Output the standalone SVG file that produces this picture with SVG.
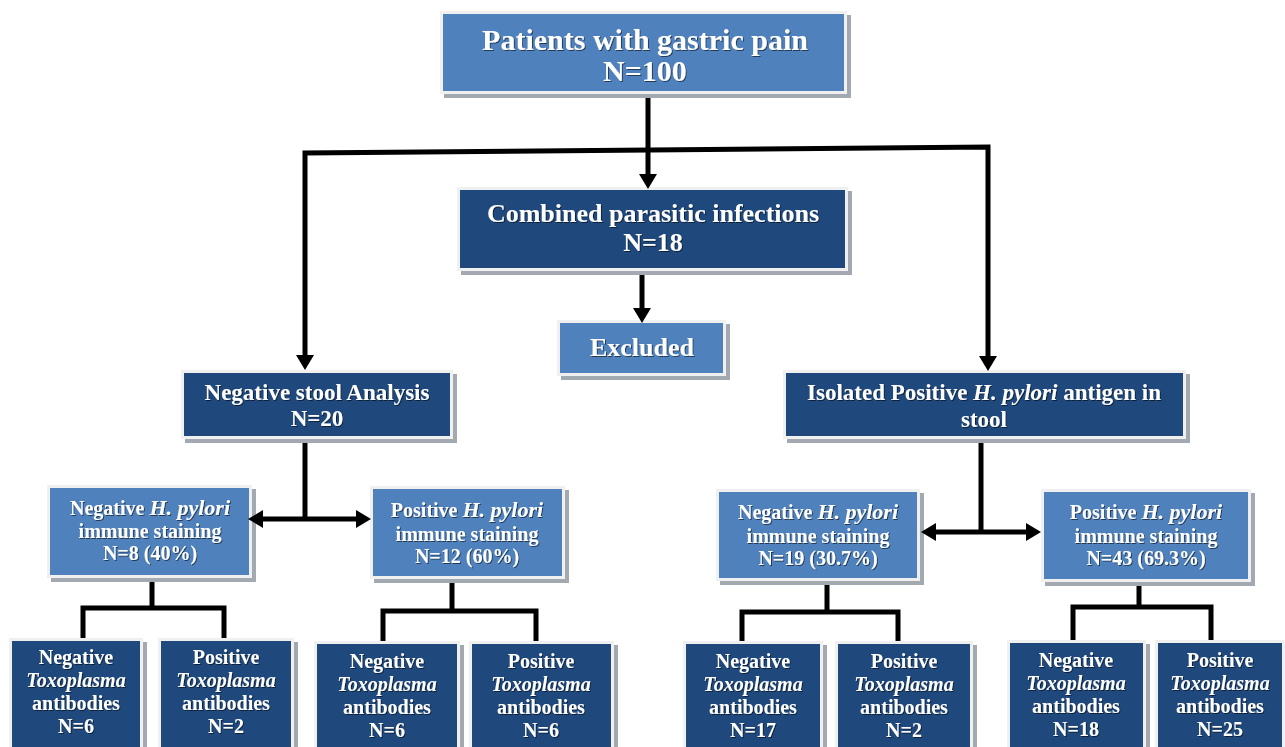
<svg xmlns="http://www.w3.org/2000/svg" width="1285" height="747" viewBox="0 0 1285 747" font-family="Liberation Serif, Times New Roman, DejaVu Serif, serif">
<style>
.sh{fill:#a3a9b0}
.bd{fill:#f0f0f0}
.lt{fill:#4f81bd}
.dk{fill:#1f497d}
.t{font-family:'Liberation Serif','Times New Roman','DejaVu Serif',serif;font-weight:bold;fill:#ffffff;text-anchor:middle;filter:url(#ts)}
.i{font-style:italic}
.hi{font-style:italic;font-size:22px}
.ln{stroke:#000;stroke-width:5;fill:none}
.ah{fill:#000}
</style>
<defs>
<filter id="ts" x="-10%" y="-30%" width="120%" height="160%">
<feDropShadow dx="1" dy="1" stdDeviation="0.6" flood-color="#000" flood-opacity="0.55"/>
</filter>
</defs>
<rect width="1285" height="747" fill="#ffffff"/>

<g id="n_patients">
<rect class="sh" x="444" y="15" width="407" height="83"/>
<rect class="bd" x="440" y="11" width="407" height="83"/>
<rect class="lt" x="443" y="14" width="401" height="77"/>
<text class="t" x="645" y="50" font-size="30">Patients with gastric pain</text>
<text class="t" x="645" y="81" font-size="30">N=100</text>
</g>

<g id="n_combined">
<rect class="sh" x="461" y="191" width="391" height="84"/>
<rect class="bd" x="457" y="187" width="391" height="84"/>
<rect class="dk" x="460" y="190" width="385" height="78"/>
<text class="t" x="653" y="222" font-size="26">Combined parasitic infections</text>
<text class="t" x="653" y="251" font-size="26">N=18</text>
</g>

<g id="n_excluded">
<rect class="sh" x="561" y="324" width="169" height="56"/>
<rect class="bd" x="557" y="320" width="169" height="56"/>
<rect class="lt" x="560" y="323" width="163" height="50"/>
<text class="t" x="642" y="356" font-size="26">Excluded</text>
</g>

<g id="n_negstool">
<rect class="sh" x="185" y="374" width="272" height="69"/>
<rect class="bd" x="181" y="370" width="272" height="69"/>
<rect class="dk" x="184" y="373" width="266" height="63"/>
<text class="t" x="317" y="400" font-size="23">Negative stool Analysis</text>
<text class="t" x="317" y="426" font-size="23">N=20</text>
</g>

<g id="n_isolated">
<rect class="sh" x="787" y="374" width="403" height="69"/>
<rect class="bd" x="783" y="370" width="403" height="69"/>
<rect class="dk" x="786" y="373" width="397" height="63"/>
<text class="t" x="984" y="400" font-size="23">Isolated Positive <tspan class="i">H. pylori</tspan> antigen in</text>
<text class="t" x="984" y="427" font-size="23">stool</text>
</g>

<g id="n_negH_L">
<rect class="sh" x="51" y="489" width="205" height="93"/>
<rect class="bd" x="47" y="485" width="205" height="93"/>
<rect class="lt" x="50" y="488" width="199" height="87"/>
<text class="t" x="150" y="515" font-size="20">Negative <tspan class="hi">H. pylori</tspan></text>
<text class="t" x="150" y="538" font-size="20">immune staining</text>
<text class="t" x="150" y="560" font-size="20">N=8 (40%)</text>
</g>

<g id="n_posH_L">
<rect class="sh" x="374" y="490" width="195" height="93"/>
<rect class="bd" x="370" y="486" width="195" height="93"/>
<rect class="lt" x="373" y="489" width="189" height="87"/>
<text class="t" x="467" y="517" font-size="20">Positive <tspan class="hi">H. pylori</tspan></text>
<text class="t" x="467" y="541" font-size="20">immune staining</text>
<text class="t" x="467" y="563" font-size="20">N=12 (60%)</text>
</g>

<g id="n_negH_R">
<rect class="sh" x="720" y="493" width="204" height="92"/>
<rect class="bd" x="716" y="489" width="204" height="92"/>
<rect class="lt" x="719" y="492" width="198" height="86"/>
<text class="t" x="818" y="519" font-size="20">Negative <tspan class="hi">H. pylori</tspan></text>
<text class="t" x="818" y="543" font-size="20">immune staining</text>
<text class="t" x="818" y="565" font-size="20">N=19 (30.7%)</text>
</g>

<g id="n_posH_R">
<rect class="sh" x="1045" y="493" width="210" height="93"/>
<rect class="bd" x="1041" y="489" width="210" height="93"/>
<rect class="lt" x="1044" y="492" width="204" height="87"/>
<text class="t" x="1146" y="519" font-size="20">Positive <tspan class="hi">H. pylori</tspan></text>
<text class="t" x="1146" y="543" font-size="20">immune staining</text>
<text class="t" x="1146" y="565" font-size="20">N=43 (69.3%)</text>
</g>

<g id="n_toxo1">
<rect class="sh" x="13" y="642" width="134" height="110"/>
<rect class="bd" x="9" y="638" width="134" height="110"/>
<rect class="dk" x="12" y="641" width="128" height="110"/>
<text class="t" x="76" y="664" font-size="20">Negative</text>
<text class="t i" x="76" y="687" font-size="20">Toxoplasma</text>
<text class="t" x="76" y="710" font-size="20">antibodies</text>
<text class="t" x="76" y="733" font-size="20">N=6</text>
</g>

<g id="n_toxo2">
<rect class="sh" x="162" y="642" width="136" height="110"/>
<rect class="bd" x="158" y="638" width="136" height="110"/>
<rect class="dk" x="161" y="641" width="130" height="110"/>
<text class="t" x="226" y="664" font-size="20">Positive</text>
<text class="t i" x="226" y="687" font-size="20">Toxoplasma</text>
<text class="t" x="226" y="710" font-size="20">antibodies</text>
<text class="t" x="226" y="733" font-size="20">N=2</text>
</g>

<g id="n_toxo3">
<rect class="sh" x="318" y="645" width="146" height="110"/>
<rect class="bd" x="314" y="641" width="146" height="110"/>
<rect class="dk" x="317" y="644" width="140" height="110"/>
<text class="t" x="387" y="668" font-size="20">Negative</text>
<text class="t i" x="387" y="691" font-size="20">Toxoplasma</text>
<text class="t" x="387" y="714" font-size="20">antibodies</text>
<text class="t" x="387" y="737" font-size="20">N=6</text>
</g>

<g id="n_toxo4">
<rect class="sh" x="473" y="645" width="145" height="110"/>
<rect class="bd" x="469" y="641" width="145" height="110"/>
<rect class="dk" x="472" y="644" width="139" height="110"/>
<text class="t" x="541" y="668" font-size="20">Positive</text>
<text class="t i" x="541" y="691" font-size="20">Toxoplasma</text>
<text class="t" x="541" y="714" font-size="20">antibodies</text>
<text class="t" x="541" y="737" font-size="20">N=6</text>
</g>

<g id="n_toxo5">
<rect class="sh" x="687" y="645" width="140" height="110"/>
<rect class="bd" x="683" y="641" width="140" height="110"/>
<rect class="dk" x="686" y="644" width="134" height="110"/>
<text class="t" x="753" y="668" font-size="20">Negative</text>
<text class="t i" x="753" y="691" font-size="20">Toxoplasma</text>
<text class="t" x="753" y="714" font-size="20">antibodies</text>
<text class="t" x="753" y="737" font-size="20">N=17</text>
</g>

<g id="n_toxo6">
<rect class="sh" x="839" y="645" width="138" height="110"/>
<rect class="bd" x="835" y="641" width="138" height="110"/>
<rect class="dk" x="838" y="644" width="132" height="110"/>
<text class="t" x="904" y="668" font-size="20">Positive</text>
<text class="t i" x="904" y="691" font-size="20">Toxoplasma</text>
<text class="t" x="904" y="714" font-size="20">antibodies</text>
<text class="t" x="904" y="737" font-size="20">N=2</text>
</g>

<g id="n_toxo7">
<rect class="sh" x="1011" y="644" width="139" height="110"/>
<rect class="bd" x="1007" y="640" width="139" height="110"/>
<rect class="dk" x="1010" y="643" width="133" height="110"/>
<text class="t" x="1076" y="667" font-size="20">Negative</text>
<text class="t i" x="1076" y="690" font-size="20">Toxoplasma</text>
<text class="t" x="1076" y="713" font-size="20">antibodies</text>
<text class="t" x="1076" y="736" font-size="20">N=18</text>
</g>

<g id="n_toxo8">
<rect class="sh" x="1159" y="644" width="130" height="110"/>
<rect class="bd" x="1155" y="640" width="130" height="110"/>
<rect class="dk" x="1158" y="643" width="124" height="110"/>
<text class="t" x="1220" y="667" font-size="20">Positive</text>
<text class="t i" x="1220" y="690" font-size="20">Toxoplasma</text>
<text class="t" x="1220" y="713" font-size="20">antibodies</text>
<text class="t" x="1220" y="736" font-size="20">N=25</text>
</g>

<g id="connectors">
<line class="ln" x1="648" y1="98" x2="648" y2="176"/>
<polygon class="ah" points="639,174 657,174 648,189"/>
<polyline class="ln" points="305,357 305,153 988,147 988,358"/>
<polygon class="ah" points="296,355 314,355 305,370"/>
<polygon class="ah" points="979,356 997,356 988,371"/>
<line class="ln" x1="642" y1="275" x2="642" y2="310"/>
<polygon class="ah" points="633,308 651,308 642,323"/>
<line class="ln" x1="305" y1="443" x2="305" y2="519"/>
<line class="ln" x1="260" y1="519" x2="359" y2="519"/>
<polygon class="ah" points="263,510 263,528 248,519"/>
<polygon class="ah" points="356,510 356,528 371,519"/>
<line class="ln" x1="981" y1="443" x2="981" y2="532"/>
<line class="ln" x1="932" y1="532" x2="1029" y2="532"/>
<polygon class="ah" points="936,523 936,541 921,532"/>
<polygon class="ah" points="1026,523 1026,541 1041,532"/>
<polyline class="ln" points="152,582 152,608"/>
<polyline class="ln" points="83,638 83,608 224,608 224,638"/>
<polyline class="ln" points="452,583 452,611"/>
<polyline class="ln" points="383,641 383,611 536,611 536,641"/>
<polyline class="ln" points="827,585 827,612"/>
<polyline class="ln" points="742,641 742,612 898,612 898,641"/>
<polyline class="ln" points="1139,586 1139,607"/>
<polyline class="ln" points="1073,640 1073,607 1211,607 1211,640"/>
</g>
</svg>
